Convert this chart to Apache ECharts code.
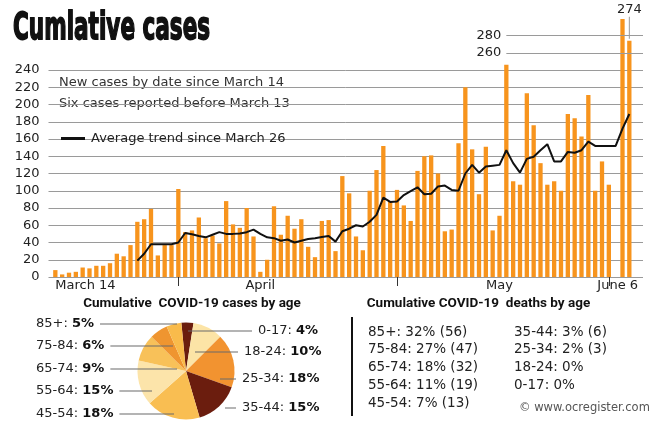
<!DOCTYPE html>
<html><head><meta charset="utf-8">
<script src="https://cdn.jsdelivr.net/npm/echarts@6/dist/echarts.min.js"></script>
<style>html,body{margin:0;padding:0;background:#fff}#c{width:661px;height:423px}</style>
</head><body><div id="c"></div>
<script>
// ---------- data ----------
const firstDay = '2020-03-14';
const dayCount = 85;
const newCases = [8,3,5,6,11,10,13,13,16,27, 24,37,64,67,79,25,37,37,102,52,
  54,69,45,48,39,88,61,57,80,47, 6,20,82,49,71,56,67,35,23,65,
  66,30,117,97,47,31,100,124,152,88, 101,83,65,123,140,141,120,53,55,155,
  220,148,96,151,54,71,246,111,107,213, 176,132,107,111,100,189,184,163,211,100,
  134,107,null,299,274];
const avgTrend = [null,null,null,null,null,null,null,null,null,null, null,null,19,27,38,38,38,38,40,51,
  49.5,47.5,46,49,52,50,50,50.5,52,55, 50,46,45,42,43.5,40,42,44,45,46.5,
  47.5,41,53,56,60,58.5,64,72,92,87, 87.5,95,99.5,104,96,96.5,105,106,101,100,
  120,130,121,128,129,130,147,132,121,137, 139.5,147,154,134,134,145,144,147,157,152,
  152,152,152,172,189];
const yTickLabels = [0,20,40,60,80,100,120,140,160,180,200,220,240];
const yExtraGuides = [260, 280];
const xTickLabels = ['March 14','April','May','June 6'];
const xTickLabelDays = ['2020-03-14','2020-04-13','2020-05-18','2020-06-06'];
const xTickMarkDays = ['2020-04-01','2020-05-03','2020-06-03'];
const annotatedDay = '2020-06-06';
const legendNotes = ['New cases by date since March 14','Six cases reported before March 13'];
const trendName = 'Average trend since March 26';

const ageGroups = ['0-17','18-24','25-34','35-44','45-54','55-64','65-74','75-84','85+'];
const casePct = [4,10,18,15,18,15,9,6,5];
const deathGroups = ['85+','75-84','65-74','55-64','45-54','35-44','25-34','18-24','0-17'];
const deathPct = [32,27,18,11,7,3,2,0,0];
const deathCount = [56,47,32,19,13,6,3,null,null];

// ---------- styles / layout ----------
const FONT = '"DejaVu Sans"';
const sliceColors = {'0-17':'#6b1d0e','18-24':'#fce4a6','25-34':'#f29330','35-44':'#6b1d0e','45-54':'#f9be52',
  '55-64':'#fce4aa','65-74':'#f8c159','75-84':'#ef9530','85+':'#f9bb4b'};
const pieLabelLayout = {
  '85+':  {side:'l', x:36,  y:324, inner:177},
  '75-84':{side:'l', x:36,  y:346, inner:173},
  '65-74':{side:'l', x:36,  y:369, inner:177},
  '55-64':{side:'l', x:36,  y:391, inner:152},
  '45-54':{side:'l', x:36,  y:414, inner:174},
  '0-17': {side:'r', x:258, y:331, inner:188},
  '18-24':{side:'r', x:244, y:352, inner:195},
  '25-34':{side:'r', x:242, y:379, inner:220},
  '35-44':{side:'r', x:242, y:408, inner:225}
};
const LEADER_GAP = 6;

// ---------- build categories ----------
function dayStr(d){ return d.toISOString().slice(0,10); }
const days = [];
{ const d0 = new Date(firstDay + 'T00:00:00Z'); for (let i=0;i<dayCount;i++){ days.push(dayStr(new Date(d0.getTime()+i*86400000))); } }
const cats = ['pad0'].concat(days, ['pad1','pad2']);
const barData = [null].concat(newCases, [null,null]);
const lineData = [null].concat(avgTrend, [null,null]);
const labelIdx = xTickLabelDays.map(d => cats.indexOf(d));
const tickIdx = xTickMarkDays.map(d => cats.indexOf(d));

const mctx = document.createElement('canvas').getContext('2d');
function textW(t, size, weight){ mctx.font = (weight||'normal') + ' ' + size + 'px ' + FONT; return mctx.measureText(t).width; }
const wFirst = textW(xTickLabels[0], 13), wLast = textW(xTickLabels[3], 13);

const splitColors = [];
for (let v=0; v<=300; v+=20) splitColors.push(yTickLabels.indexOf(v) >= 0 ? '#9a9a9a' : 'rgba(0,0,0,0)');

// pie label rich styles incl. leader lines
const pieRich = {
  a:{fontFamily:FONT, fontSize:13, color:'#222', lineHeight:16},
  b:{fontFamily:FONT, fontSize:13, fontWeight:'bold', color:'#111', lineHeight:16},
  gap:{width:LEADER_GAP, fontSize:13, lineHeight:16}
};
ageGroups.forEach((g,i)=>{
  const L = pieLabelLayout[g];
  let w;
  if (L.side === 'l') {
    const tw = textW(g + ': ', 13) + textW(casePct[i] + '%', 13, 'bold');
    w = L.inner - (L.x + tw + LEADER_GAP);
  } else {
    w = L.x - LEADER_GAP - L.inner;
  }
  pieRich['ln' + i] = {width:Math.max(1,w), height:1, fontSize:13, backgroundColor:'#6a6a6a'};
});

// deaths text
const deathTexts = deathGroups.map((g,i)=> g + ': ' + deathPct[i] + '%' + (deathCount[i]!=null ? ' (' + deathCount[i] + ')' : ''));
const deathGraphics = deathTexts.map((t,i)=>{
  const col = i < 5 ? 0 : 1, row = i < 5 ? i : i-5;
  return {type:'text', x: col ? 514 : 368, y: 332 + row*17.9,
    style:{text:t, fontFamily:FONT, fontSize:13.5, fill:'#222', verticalAlign:'middle'}};
});

const chart = echarts.init(document.getElementById('c'), null, {renderer:'canvas'});
chart.setOption({
  animation:false,
  backgroundColor:'#fff',
  grid:{left:48.5, right:18, top:18.25, bottom:146, outerBoundsMode:'none', containLabel:false},
  legend:{data:[{name:trendName, icon:'rect'}], left:56, top:127, itemWidth:24, itemHeight:3,
    selectedMode:false, textStyle:{fontFamily:FONT, fontSize:13, color:'#222', padding:[0,0,0,1]}},
  xAxis:{type:'category', data:cats, boundaryGap:false,
    axisLine:{show:false},
    axisTick:{show:true, length:9, lineStyle:{color:'#333', width:1}, interval:(i)=> tickIdx.indexOf(i)>=0},
    axisLabel:{show:true, margin:2, fontFamily:FONT, fontSize:13, color:'#222',
      interval:(i)=> labelIdx.indexOf(i)>=0,
      formatter:(v,i)=>{ const k = labelIdx.indexOf(i); if (k<0) return '';
        if (k===0) return '{l|' + xTickLabels[k] + '}';
        if (k===xTickLabels.length-1) return '{r|' + xTickLabels[k] + '}';
        return xTickLabels[k]; },
      rich:{ l:{fontFamily:FONT, fontSize:13, color:'#222', padding:[0,0,0,wFirst]},
             r:{fontFamily:FONT, fontSize:13, color:'#222', padding:[0,Math.max(0,wLast-17.4),0,0]} }
    },
    splitLine:{show:false}
  },
  yAxis:{type:'value', min:0, max:300, interval:20,
    axisLine:{show:false}, axisTick:{show:false},
    axisLabel:{margin:9, fontFamily:FONT, fontSize:13, color:'#222',
      formatter:(v)=> yTickLabels.indexOf(v)>=0 ? String(v) : ''},
    splitLine:{show:true, lineStyle:{color:splitColors, width:1}}
  },
  series:[
    {type:'bar', name:'New cases', data:barData, barWidth:'63%', itemStyle:{color:'#f7941d'}, z:2,
      markLine:{silent:true, symbol:'none', animation:false,
        lineStyle:{color:'#9a9a9a', type:'solid', width:1},
        label:{show:true, position:'start', distance:5, fontFamily:FONT, fontSize:13, color:'#222', formatter:(p)=>String(p.value)},
        data: yExtraGuides.map(v=>[{coord:[cats.indexOf(days[66]), v], value:v},{coord:[cats.length-1, v], value:v}])
      },
      markPoint:{silent:true, symbol:'rect', symbolSize:[1,22], symbolOffset:[0,-13], itemStyle:{color:'#999'},
        label:{show:true, position:'top', distance:1, fontFamily:FONT, fontSize:13, color:'#222', formatter:(p)=>String(p.value)},
        data:[{coord:[cats.indexOf(annotatedDay), newCases[days.indexOf(annotatedDay)]], value:newCases[days.indexOf(annotatedDay)]}]
      }
    },
    {type:'line', name:trendName, data:lineData, showSymbol:false, symbol:'none', color:'#111',
      lineStyle:{color:'#111', width:2}, z:3},
    {type:'pie', name:'Cases by age', center:[186,371], radius:48.5, startAngle:95.5, clockwise:true,
      avoidLabelOverlap:false, silent:true, z:4,
      data: ageGroups.map((g,i)=>({name:g, value:casePct[i], itemStyle:{color:sliceColors[g]}})),
      label:{show:true, position:'outside',
        formatter:(p)=>{ const L = pieLabelLayout[p.name]; const txt = '{a|' + p.name + ': }{b|' + p.value + '%}';
          const ln = '{ln' + p.dataIndex + '| }';
          return L.side==='l' ? txt + '{gap| }' + ln : ln + '{gap| }' + txt; },
        rich:pieRich},
      labelLine:{show:false},
      labelLayout:(p)=>{
        const L = pieLabelLayout[ageGroups[p.dataIndex]];
        return {x: L.side==='l' ? L.x : L.inner, y:L.y, align:'left', verticalAlign:'middle'};
      }
    }
  ],
  graphic:[
    {type:'text', x:13, y:29.5, scaleX:0.583, style:{text:'Cumlative cases', fontFamily:FONT, fontWeight:'bold', fontSize:37, fill:'#111', stroke:'#111', lineWidth:1.8, verticalAlign:'middle'}},
    {type:'text', x:59, y:83, style:{text:legendNotes[0], fontFamily:FONT, fontSize:13, fill:'#333', verticalAlign:'middle'}},
    {type:'text', x:59, y:104, style:{text:legendNotes[1], fontFamily:FONT, fontSize:13, fill:'#333', verticalAlign:'middle'}},
    {type:'text', x:192, y:304, style:{text:'Cumulative  COVID-19 cases by age', fontFamily:'Roboto', fontWeight:'bold', fontSize:13.5, fill:'#111', align:'center', verticalAlign:'middle'}},
    {type:'text', x:478.5, y:304, style:{text:'Cumulative COVID-19  deaths by age', fontFamily:'Roboto', fontWeight:'bold', fontSize:13.5, fill:'#111', align:'center', verticalAlign:'middle'}},
    {type:'line', shape:{x1:352,y1:317,x2:352,y2:416}, style:{stroke:'#111', lineWidth:2}},
    {type:'text', x:519, y:408, style:{text:'\u00a9 www.ocregister.com', fontFamily:FONT, fontSize:11.5, fill:'#555', verticalAlign:'middle'}}
  ].concat(deathGraphics)
});
</script></body></html>
